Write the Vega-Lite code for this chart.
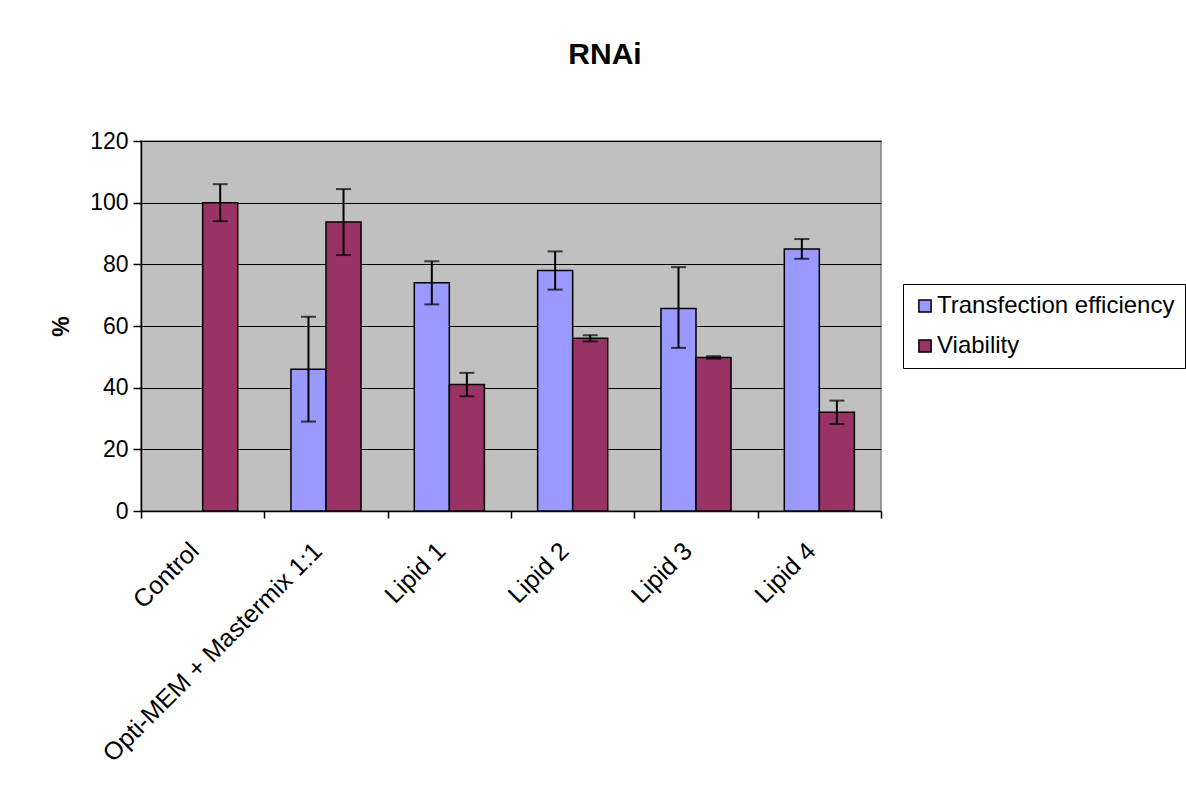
{
  "$schema": "https://vega.github.io/schema/vega-lite/v6.json",
  "autosize": {"type": "none"},
  "width": 740,
  "height": 370,
  "padding": {"left": 141, "top": 141, "right": 305, "bottom": 281},
  "background": "white",
  "title": {
    "text": "RNAi",
    "font": "Liberation Sans",
    "fontSize": 30,
    "fontWeight": "bold",
    "color": "black",
    "anchor": "middle",
    "dx": 94,
    "offset": 60
  },
  "data": {
    "values": [
      {"group": "Control", "series": "Viability", "value": 100, "lo": 94, "hi": 106},
      {"group": "Opti-MEM + Mastermix 1:1", "series": "Transfection efficiency", "value": 46, "lo": 29, "hi": 63},
      {"group": "Opti-MEM + Mastermix 1:1", "series": "Viability", "value": 93.7, "lo": 83, "hi": 104.4},
      {"group": "Lipid 1", "series": "Transfection efficiency", "value": 74, "lo": 67, "hi": 81},
      {"group": "Lipid 1", "series": "Viability", "value": 41, "lo": 37.2, "hi": 44.8},
      {"group": "Lipid 2", "series": "Transfection efficiency", "value": 78, "lo": 71.8, "hi": 84.2},
      {"group": "Lipid 2", "series": "Viability", "value": 56, "lo": 55, "hi": 57},
      {"group": "Lipid 3", "series": "Transfection efficiency", "value": 65.7, "lo": 52.9, "hi": 79.1},
      {"group": "Lipid 3", "series": "Viability", "value": 49.8, "lo": 49.4, "hi": 50.2},
      {"group": "Lipid 4", "series": "Transfection efficiency", "value": 85, "lo": 81.8, "hi": 88.2},
      {"group": "Lipid 4", "series": "Viability", "value": 32, "lo": 28.2, "hi": 35.8}
    ]
  },
  "encoding": {
    "x": {
      "field": "group",
      "type": "nominal",
      "sort": null,
      "title": null,
      "scale": {"paddingInner": 0, "paddingOuter": 0},
      "axis": {
        "tickBand": "extent",
        "labelAngle": -45,
        "labelAlign": "right",
        "labelBaseline": "top",
        "labelFontSize": 25,
        "labelPadding": 20,
        "labelOffset": -17,
        "labelLimit": 0,
        "tickSize": 7,
        "grid": false
      }
    },
    "xOffset": {
      "field": "series",
      "type": "nominal",
      "scale": {"domain": ["Transfection efficiency", "Viability"], "paddingInner": 0, "paddingOuter": 0.76}
    }
  },
  "layer": [
    {
      "mark": {"type": "bar", "stroke": "black", "strokeWidth": 1.5},
      "encoding": {
        "y": {
          "field": "value",
          "type": "quantitative",
          "title": "%",
          "scale": {"domain": [0, 120]},
          "axis": {"values": [0, 20, 40, 60, 80, 100, 120]}
        },
        "color": {
          "field": "series",
          "type": "nominal",
          "title": null,
          "scale": {"domain": ["Transfection efficiency", "Viability"], "range": ["#9999FF", "#993366"]}
        }
      }
    },
    {
      "mark": {"type": "rule", "color": "black", "strokeWidth": 2},
      "encoding": {
        "y": {"field": "lo", "type": "quantitative", "title": "%"},
        "y2": {"field": "hi"}
      }
    },
    {
      "mark": {"type": "tick", "color": "black", "size": 15, "thickness": 2},
      "encoding": {"y": {"field": "lo", "type": "quantitative", "title": "%"}}
    },
    {
      "mark": {"type": "tick", "color": "black", "size": 15, "thickness": 2},
      "encoding": {"y": {"field": "hi", "type": "quantitative", "title": "%"}}
    }
  ],
  "config": {
    "font": "Liberation Sans",
    "view": {"fill": "#C0C0C0", "stroke": "#808080", "strokeWidth": 1.5},
    "axis": {
      "labelFont": "Liberation Sans",
      "labelFontSize": 23,
      "labelColor": "black",
      "domainColor": "black",
      "domainWidth": 1.5,
      "tickColor": "black",
      "tickWidth": 1.5,
      "titleFont": "Liberation Sans",
      "titleFontSize": 23,
      "titleFontWeight": "bold",
      "titleColor": "black"
    },
    "axisY": {
      "gridColor": "black",
      "gridWidth": 1,
      "gridOpacity": 1,
      "tickSize": 8,
      "labelPadding": 5,
      "titlePadding": 16
    },
    "legend": {
      "orient": "none",
      "legendX": 762,
      "legendY": 143,
      "padding": 10,
      "strokeColor": "black",
      "strokeWidth": 1,
      "fillColor": "white",
      "symbolType": "square",
      "symbolSize": 150,
      "symbolStrokeColor": "black",
      "symbolStrokeWidth": 1.5,
      "labelFont": "Liberation Sans",
      "labelFontSize": 24,
      "labelColor": "black",
      "labelOffset": 0,
      "labelLimit": 0,
      "rowPadding": 16
    }
  }
}
